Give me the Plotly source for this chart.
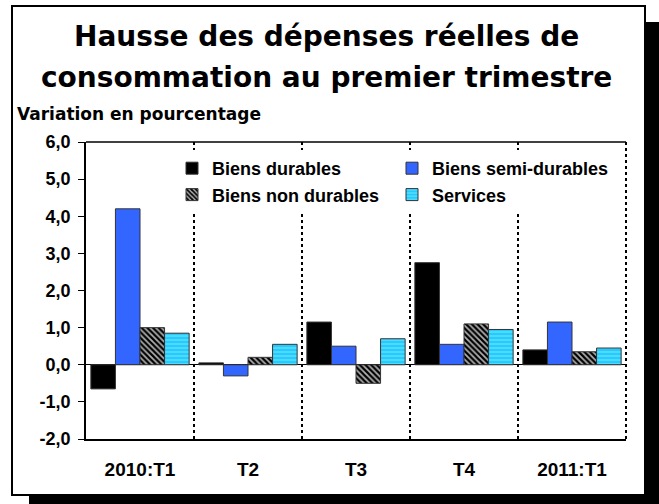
import plotly.graph_objects as go

# Data (variation en pourcentage)
quarters = ['2010:T1', 'T2', 'T3', 'T4', '2011:T1']
durables = [-0.65, 0.05, 1.15, 2.75, 0.4]
semi_durables = [4.2, -0.3, 0.5, 0.55, 1.15]
non_durables = [1.0, 0.2, -0.5, 1.1, 0.35]
services = [0.85, 0.55, 0.7, 0.95, 0.45]
y_ticks = [-2, -1, 0, 1, 2, 3, 4, 5, 6]
y_labels = ['-2,0', '-1,0', '0,0', '1,0', '2,0', '3,0', '4,0', '5,0', '6,0']

W, H = 659, 504
L, T = 86, 142
R, B = W - 626, H - 439
pw, ph = W - L - R, H - T - B


def px(x):
    # pixel x -> paper coordinate
    return (x - L) / pw


def py(y):
    # pixel y -> paper coordinate
    return (H - B - y) / ph


fig = go.Figure()

outline = dict(color='#333333', width=1)
fig.add_trace(go.Bar(x=quarters, y=durables, name='Biens durables',
                     marker=dict(color='black', line=outline)))
fig.add_trace(go.Bar(x=quarters, y=semi_durables, name='Biens semi-durables',
                     marker=dict(color='#3366FF', line=outline)))
fig.add_trace(go.Bar(x=quarters, y=non_durables, name='Biens non durables',
                     marker=dict(color='#999999', line=outline,
                                 pattern=dict(shape='\\', fgcolor='black', bgcolor='#b0b0b0',
                                              size=4, solidity=0.55, fgopacity=1))))
fig.add_trace(go.Bar(x=quarters, y=services, name='Services',
                     marker=dict(color='#22CCFF', line=outline,
                                 pattern=dict(shape='-', fgcolor='#A8EEFF', bgcolor='#22CCFF',
                                              size=4, solidity=0.35))))

shapes = []
# shadow of the frame
shapes.append(dict(type='rect', xref='paper', yref='paper', x0=px(645), x1=px(660),
                   y0=py(22), y1=py(505), fillcolor='black', line=dict(width=0), layer='below'))
shapes.append(dict(type='rect', xref='paper', yref='paper', x0=px(29), x1=px(660),
                   y0=py(495), y1=py(505), fillcolor='black', line=dict(width=0), layer='below'))
# frame
shapes.append(dict(type='rect', xref='paper', yref='paper', x0=px(12), x1=px(645),
                   y0=py(6), y1=py(495), line=dict(color='black', width=2), layer='below'))
# dotted separators between quarters
for i in range(len(quarters) - 1):
    shapes.append(dict(type='line', xref='x', yref='paper', x0=i + 0.5, x1=i + 0.5, y0=0, y1=1,
                       line=dict(color='black', width=2, dash='dot')))
# right edge dotted, top edge solid
shapes.append(dict(type='line', xref='paper', yref='paper', x0=1, x1=1, y0=0, y1=1,
                   line=dict(color='black', width=2, dash='dot')))
shapes.append(dict(type='line', xref='paper', yref='paper', x0=0, x1=1, y0=1, y1=1,
                   line=dict(color='black', width=1.5)))

title_font = dict(family='DejaVu Sans', size=28, weight='bold', color='black')

fig.update_layout(
    width=W, height=H,
    margin=dict(l=L, r=R, t=T, b=B),
    paper_bgcolor='white', plot_bgcolor='white',
    separators=', ',
    barmode='group', bargap=0.09, bargroupgap=0,
    shapes=shapes,
    font=dict(family='Liberation Sans, Arial', size=15, color='black'),
    showlegend=True,
    legend=dict(orientation='h', x=px(172), y=py(150), xanchor='left', yanchor='top',
                bgcolor='white', entrywidth=175, entrywidthmode='pixels',
                font=dict(family='Liberation Sans, Arial', size=18, color='black', weight='bold'),
                tracegroupgap=0, traceorder='normal'),
    annotations=[
        dict(text='Hausse des dépenses réelles de', xref='paper', yref='paper',
             x=px(326), y=py(36), xanchor='center', yanchor='middle',
             showarrow=False, font=title_font),
        dict(text='consommation au premier trimestre', xref='paper', yref='paper',
             x=px(326), y=py(77), xanchor='center', yanchor='middle',
             showarrow=False, font=title_font),
        dict(text='Variation en pourcentage', xref='paper', yref='paper',
             x=px(15), y=py(114), xanchor='left', yanchor='middle', showarrow=False,
             font=dict(family='DejaVu Sans', size=17, weight='bold', color='black')),
    ],
)

fig.update_xaxes(showline=True, linecolor='black', linewidth=1.5, ticks='',
                 tickfont=dict(family='Liberation Sans, Arial', size=19, weight='bold'),
                 ticklabelstandoff=12, showgrid=False)
fig.update_yaxes(range=[-2, 6], tickvals=y_ticks, ticktext=y_labels, showline=True,
                 linecolor='black', linewidth=1.5, ticks='outside', ticklen=6,
                 tickcolor='black', showgrid=False, zeroline=True, zerolinecolor='black',
                 zerolinewidth=1, ticklabelstandoff=4,
                 tickfont=dict(family='Liberation Sans, Arial', size=18, weight='bold'))

# drop the default page margin so the figure fills the window exactly
fig.write_html('out.html', config={'displayModeBar': False},
               post_script="document.body.style.margin='0';document.body.style.overflow='hidden';")
